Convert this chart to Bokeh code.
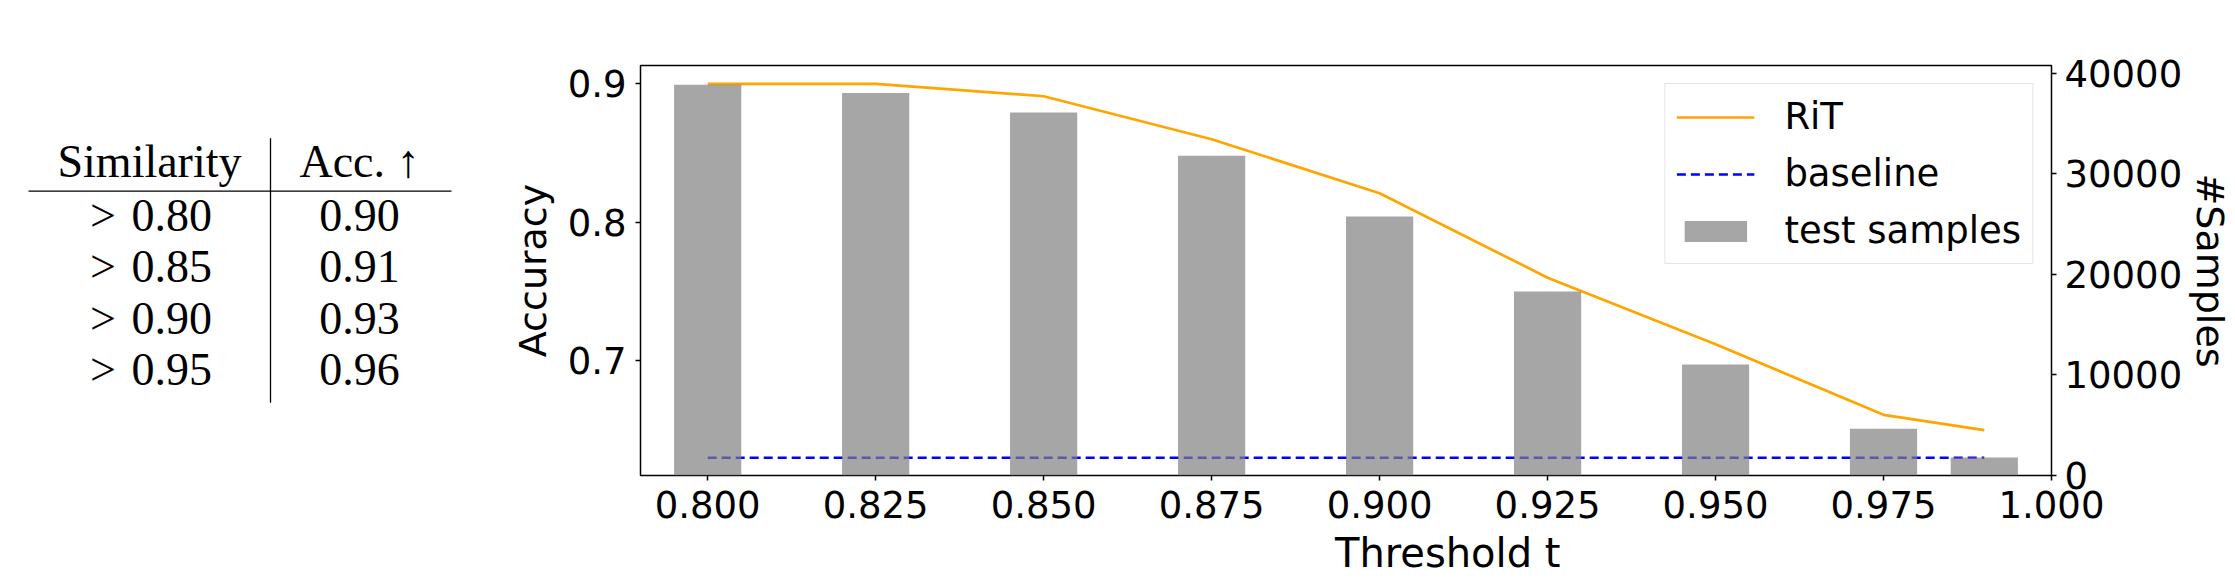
from bokeh.plotting import figure
from bokeh.layouts import row
from bokeh.models import (Range1d, LinearAxis, FixedTicker, Legend, LegendItem,
                          PrintfTickFormatter)
from bokeh.core.properties import value
from bokeh.embed import file_html
from bokeh.resources import INLINE

# ---------------- data ----------------
thresholds = [0.800, 0.825, 0.850, 0.875, 0.900, 0.925, 0.950, 0.975, 0.990]
rit_acc = [0.900, 0.900, 0.891, 0.860, 0.821, 0.760, 0.712, 0.661, 0.650]
baseline_x = [0.800, 0.990]
baseline_acc = [0.630, 0.630]
test_samples = [38850, 38050, 36100, 31800, 25750, 18300, 11050, 4650, 1800]

x_ticks = [0.800, 0.825, 0.850, 0.875, 0.900, 0.925, 0.950, 0.975, 1.000]
x_tick_labels = ["0.800", "0.825", "0.850", "0.875", "0.900", "0.925", "0.950", "0.975", "1.000"]
acc_ticks = [0.7, 0.8, 0.9]
acc_tick_labels = ["0.7", "0.8", "0.9"]
sample_ticks = [0, 10000, 20000, 30000, 40000]
sample_tick_labels = ["0", "10000", "20000", "30000", "40000"]

series_names = ["RiT", "baseline", "test samples"]
x_title, y_title, y2_title = "Threshold t", "Accuracy", "#Samples"

table_headers = ["Similarity", "Acc. \u2191"]
table_similarity = ["0.80", "0.85", "0.90", "0.95"]
table_acc = ["0.90", "0.91", "0.93", "0.96"]

FONT = "DejaVu Sans"
FS = "37px"

# page geometry
W, H = 2235, 578
FRAME_L, FRAME_R, FRAME_T, FRAME_B = 640, 2054, 65, 476
TW = 488

# ---------------- table (left) ----------------
# The table figure's frame is aligned with the chart frame vertically,
# so its y range is given in page pixels of that frame.
t = figure(width=TW, height=H, x_range=Range1d(0, TW), y_range=Range1d(FRAME_B, FRAME_T),
           output_backend="svg", toolbar_location=None, min_border=0,
           min_border_top=FRAME_T, min_border_bottom=H - FRAME_B,
           x_axis_location=None, y_axis_location=None)
t.grid.visible = False
t.outline_line_color = None

col1_x, col2_x = 149, 359
head_y = 161
row_y0, row_step = 215, 51.7
rows_y = [row_y0 + i * row_step for i in range(len(table_similarity))]

t.segment(x0=[28], y0=[191], x1=[451], y1=[191], line_color="black", line_width=1.3)
t.segment(x0=[270], y0=[138], x1=[270], y1=[403], line_color="black", line_width=1.3)

tfont = value("Liberation Serif")
tsize = value("46px")
t.text(x=[col1_x, col2_x], y=[head_y, head_y], text=table_headers,
       text_font=tfont, text_font_size=tsize, text_align="center",
       text_baseline="alphabetic", text_color="black")
t.text(x=[102.5] * len(rows_y), y=rows_y, text=[">"] * len(rows_y),
       text_font=tfont, text_font_size=tsize, text_align="center",
       text_baseline="alphabetic", text_color="black")
t.text(x=[131] * len(rows_y), y=rows_y, text=table_similarity,
       text_font=tfont, text_font_size=tsize, text_align="left",
       text_baseline="alphabetic", text_color="black")
t.text(x=[col2_x] * len(rows_y), y=rows_y, text=table_acc,
       text_font=tfont, text_font_size=tsize, text_align="center",
       text_baseline="alphabetic", text_color="black")

# ---------------- chart (right) ----------------
PW = W - TW
p = figure(width=PW, height=H, x_range=Range1d(0.790, 1.000), y_range=Range1d(0.6172, 0.9132),
           output_backend="svg", toolbar_location=None,
           min_border_left=FRAME_L - TW, min_border_right=W - FRAME_R,
           min_border_top=FRAME_T, min_border_bottom=H - FRAME_B)
p.grid.visible = False
p.outline_line_color = "black"
p.outline_line_width = 1.5
p.background_fill_color = "white"

p.extra_y_ranges = {"samples": Range1d(0, 40774)}

r_base = p.line(baseline_x, baseline_acc, line_color="blue", line_width=2.5, line_dash="9 5")
r_rit = p.line(thresholds, rit_acc, line_color="#FFA500", line_width=2.7)
r_bar = p.vbar(x=thresholds, top=test_samples, width=0.01, bottom=0, y_range_name="samples",
               fill_color="gray", fill_alpha=0.7, line_color=None)

xax = p.xaxis[0]
xax.ticker = FixedTicker(ticks=x_ticks)
xax.formatter = PrintfTickFormatter(format="%.3f")
xax.major_label_overrides = dict(zip(x_ticks, x_tick_labels))
xax.major_label_standoff = 10
# the reference's x title sits right of the frame centre: pad with no-break spaces
xax.axis_label = "\u00a0" * 16 + x_title
xax.axis_label_standoff = 9

yax = p.yaxis[0]
yax.ticker = FixedTicker(ticks=acc_ticks)
yax.major_label_overrides = dict(zip(acc_ticks, acc_tick_labels))
yax.axis_label = y_title
yax.major_label_standoff = 9
yax.axis_label_standoff = 10

rax = LinearAxis(y_range_name="samples", ticker=FixedTicker(ticks=sample_ticks))
rax.major_label_overrides = dict(zip(sample_ticks, sample_tick_labels))
rax.major_label_standoff = 8
rax.axis_label = y2_title
rax.axis_label_standoff = 3
p.add_layout(rax, "right")

for ax in (xax, yax, rax):
    ax.axis_line_color = None
    ax.major_tick_in = 0
    ax.major_tick_out = 5
    ax.major_tick_line_width = 1.5
    ax.major_tick_line_color = "black"
    ax.minor_tick_line_color = None
    ax.major_label_text_font = FONT
    ax.major_label_text_font_size = FS
    ax.major_label_text_color = "black"
    ax.axis_label_text_font = FONT
    ax.axis_label_text_font_size = "38px"
    ax.axis_label_text_font_style = "normal"
    ax.axis_label_text_color = "black"
xax.axis_label_text_font_size = "40px"

legend = Legend(items=[LegendItem(label=series_names[0], renderers=[r_rit]),
                       LegendItem(label=series_names[1], renderers=[r_base]),
                       LegendItem(label=series_names[2], renderers=[r_bar])],
                location="top_right")
legend.label_text_font = FONT
legend.label_text_font_size = FS
legend.label_text_color = "black"
legend.glyph_width = 78
legend.glyph_height = 26
legend.label_standoff = 30
legend.label_height = 40
legend.spacing = 14
legend.padding = 11
legend.margin = 18
legend.border_line_color = "#cccccc"
legend.border_line_width = 1.5
legend.background_fill_color = "white"
legend.background_fill_alpha = 0.8
p.add_layout(legend)

layout = row(t, p)
open("out.html", "w").write(file_html(layout, INLINE))
